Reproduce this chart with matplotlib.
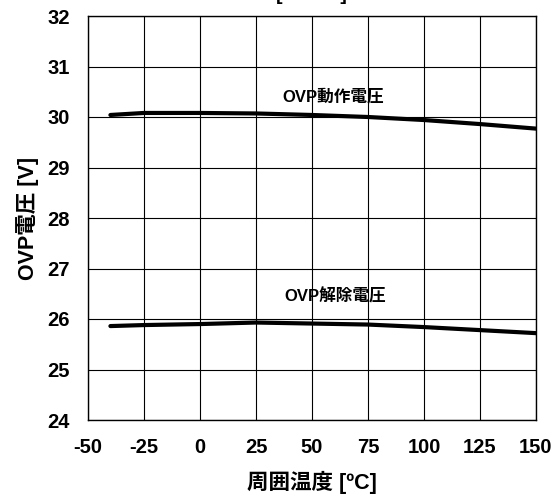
import matplotlib
matplotlib.use("Agg")
import matplotlib.pyplot as plt

plt.rcParams['font.family'] = ['Liberation Sans', 'Noto Sans CJK JP', 'DejaVu Sans']
plt.rcParams['font.weight'] = 'bold'

temp = [-40, -25, 0, 25, 50, 75, 100, 125, 150]
ovp_on = [30.04, 30.08, 30.08, 30.07, 30.04, 30.00, 29.94, 29.86, 29.77]
ovp_off = [25.86, 25.88, 25.90, 25.93, 25.91, 25.89, 25.84, 25.78, 25.72]
xticks = [-50, -25, 0, 25, 50, 75, 100, 125, 150]
yticks = [24, 25, 26, 27, 28, 29, 30, 31, 32]

fig = plt.figure(figsize=(5.58, 5.0), dpi=100)
ax = fig.add_axes([88/558, 1-420/500, (536-88)/558, (420-16)/500])

ax.plot(temp, ovp_on, color='black', lw=3.0, solid_capstyle='round', zorder=3)
ax.plot(temp, ovp_off, color='black', lw=3.0, solid_capstyle='round', zorder=3)

ax.set_xlim(-50, 150)
ax.set_ylim(24, 32)
ax.set_xticks(xticks)
ax.set_yticks(yticks)
ax.set_xticklabels([str(t) for t in xticks], fontsize=14.5, fontweight='bold')
ax.set_yticklabels([str(t) for t in yticks], fontsize=14.5, fontweight='bold')
ax.tick_params(axis='y', length=0, pad=13)
ax.tick_params(axis='x', length=0, pad=13)
ax.grid(True, color='black', lw=0.8)
for s in ax.spines.values():
    s.set_linewidth(1.0)
    s.set_color('black')

ax.text(59.5, 30.4, 'OVP動作電圧', fontsize=12, fontweight='bold', ha='center', va='center')
ax.text(60.5, 26.44, 'OVP解除電圧', fontsize=12, fontweight='bold', ha='center', va='center')

ax.set_xlabel('周囲温度 [ºC]', fontsize=15.5, fontweight='bold', labelpad=10)
ax.set_ylabel('OVP電圧 [V]', fontsize=15.5, fontweight='bold', labelpad=6)

fig.text(312/558, 1 - 4/500, '[V=12V]', fontsize=14, fontweight='bold', ha='center', va='bottom')

fig.savefig('out.png', dpi=100)
